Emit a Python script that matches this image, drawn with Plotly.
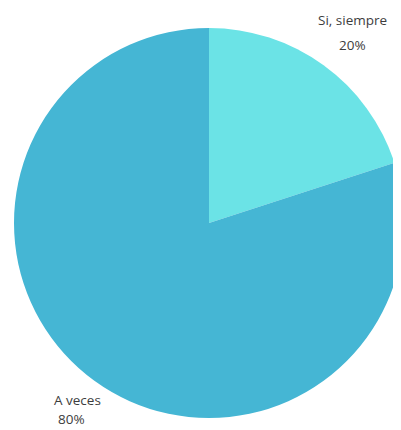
import plotly.graph_objects as go

labels = ["Si, siempre", "A veces"]
values = [20, 80]
colors = ["#6be3e6", "#45b6d4"]

W, H = 401, 430
OFF = 8  # browser body margin offset

def px_x(x):
    return (x - OFF) / W

def px_y(y):
    return 1 - (y - OFF) / H

fig = go.Figure()
fig.add_trace(go.Pie(
    labels=labels,
    values=values,
    sort=False,
    direction="clockwise",
    rotation=0,
    textinfo="none",
    hoverinfo="skip",
    marker=dict(colors=colors, line=dict(width=0)),
    domain=dict(x=[px_x(14), px_x(404)], y=[px_y(418), px_y(28)]),
    showlegend=False,
))

total = sum(values)
pct = [f"{round(v / total * 100)}%" for v in values]

# label positions (page pixels) for each slice: (x_label, y_label, x_pct, y_pct)
label_pos = [(352, 20, 352, 45), (77, 400, 71, 419)]
for lab, p, (lx, ly, qx, qy) in zip(labels, pct, label_pos):
    fig.add_annotation(x=px_x(lx), y=px_y(ly), xref="paper", yref="paper",
                       text=lab, showarrow=False, xanchor="center", yanchor="middle",
                       borderpad=0,
                       font=dict(family="Open Sans", size=13.5, color="#3d3d3d"))
    fig.add_annotation(x=px_x(qx), y=px_y(qy), xref="paper", yref="paper",
                       text=p, showarrow=False, xanchor="center", yanchor="middle",
                       borderpad=0,
                       font=dict(family="Open Sans", size=13.5, color="#3d3d3d"))

fig.update_layout(
    width=W, height=H,
    margin=dict(l=0, r=0, t=0, b=0),
    paper_bgcolor="white",
    plot_bgcolor="white",
)

fig.write_html("out.html")
